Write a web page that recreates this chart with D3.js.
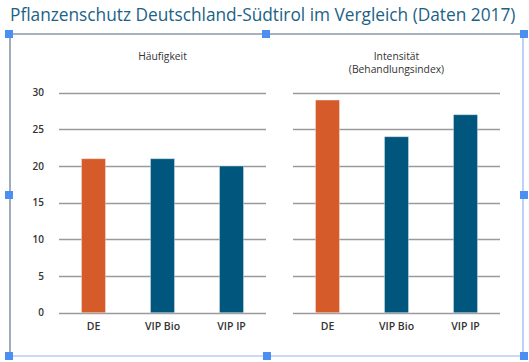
<!DOCTYPE html>
<html><head><meta charset="utf-8">
<script src="https://cdn.jsdelivr.net/npm/d3@7"></script>
<style>html,body{margin:0;padding:0;background:#fff;}svg{display:block;}</style>
</head><body>
<svg id="c" width="529" height="362"></svg>
<script>
const title = "Pflanzenschutz Deutschland-Südtirol im Vergleich (Daten 2017)";
const categories = ["DE", "VIP Bio", "VIP IP"];
const haeufigkeit = [21, 21, 20];
const intensitaet = [29, 24, 27];
const yTicks = [0, 5, 10, 15, 20, 25, 30];
const panelTitles = [["Häufigkeit"], ["Intensität", "(Behandlungsindex)"]];
const barColors = ["#d65b2b", "#00567d", "#00567d"];

const svg = d3.select("#c");
const font = "'Open Sans', 'DejaVu Sans', sans-serif";

// title
const t = svg.append("text").attr("x", 10).attr("y", 21)
  .attr("font-family", font).attr("font-size", 18.5).attr("fill", "#1b6286")
  .text(title);
const w = t.node().getComputedTextLength();
if (w > 506) t.attr("font-size", 18.5 * 506 / w);

// selection frame
const fx0 = 10, fx1 = 523, fy0 = 34, fy1 = 356;
svg.append("line").attr("x1", fx0).attr("x2", fx1).attr("y1", fy0).attr("y2", fy0).attr("stroke", "#8b98a8").attr("stroke-width", 1.6);
svg.append("line").attr("x1", fx0).attr("x2", fx0).attr("y1", fy0).attr("y2", fy1).attr("stroke", "#8b98a8").attr("stroke-width", 1.6);
svg.append("line").attr("x1", fx1).attr("x2", fx1).attr("y1", fy0).attr("y2", fy1).attr("stroke", "#8fb5f2").attr("stroke-width", 1.2);
svg.append("line").attr("x1", fx0).attr("x2", fx1).attr("y1", fy1).attr("y2", fy1).attr("stroke", "#8fb5f2").attr("stroke-width", 1.2);

const y = d3.scaleLinear().domain([0, 30]).range([312.7, 92.7]);

function panel(x0, x1, values, titles, showY) {
  const g = svg.append("g");
  const x = d3.scaleBand().domain(categories).range([x0, x1]).paddingInner(0.652).paddingOuter(0.326);
  g.selectAll("line.grid").data(yTicks).join("line")
    .attr("x1", x0).attr("x2", x1)
    .attr("y1", d => Math.round(y(d)) + 0.5).attr("y2", d => Math.round(y(d)) + 0.5)
    .attr("stroke", "#9a9a9a").attr("stroke-width", 1.3);
  g.selectAll("rect").data(values).join("rect")
    .attr("x", (d, i) => x(categories[i]))
    .attr("width", x.bandwidth())
    .attr("y", d => y(d))
    .attr("height", d => y(0) - y(d))
    .attr("fill", (d, i) => barColors[i])
    .attr("stroke", "rgba(255,255,255,0.35)").attr("stroke-width", 1);
  const xa = g.append("g").attr("transform", `translate(0,${y(0)})`)
    .call(d3.axisBottom(x).tickSize(0).tickPadding(10));
  xa.select(".domain").remove();
  xa.selectAll("text").attr("font-family", font).attr("font-size", 10.5)
    .attr("font-weight", 600).attr("fill", "#333").attr("dy", "0.71em");
  if (showY) {
    const ya = g.append("g").attr("transform", `translate(44,0)`)
      .call(d3.axisLeft(y).tickValues(yTicks).tickSize(0).tickPadding(0));
    ya.select(".domain").remove();
    ya.selectAll("text").attr("font-family", font).attr("font-size", 10)
      .attr("font-weight", 600).attr("fill", "#333");
  }
  titles.forEach((tt, i) => {
    g.append("text").attr("x", (x0 + x1) / 2).attr("y", 60 + i * 12.5)
      .attr("text-anchor", "middle").attr("font-family", font).attr("font-size", 10.3)
      .attr("fill", "#333").text(tt);
  });
}
panel(59, 266, haeufigkeit, panelTitles[0], true);
panel(293, 500, intensitaet, panelTitles[1], false);

const hs = 8;
const handles = [[9, 34], [266, 34], [524, 34], [9, 195], [524, 195], [9, 356], [267, 356], [524, 356]];
svg.selectAll("rect.h").data(handles).join("rect").attr("class", "h")
  .attr("x", d => d[0] - hs / 2).attr("y", d => d[1] - hs / 2)
  .attr("width", hs).attr("height", hs).attr("fill", "#4b8ff2");
</script>
</body></html>
